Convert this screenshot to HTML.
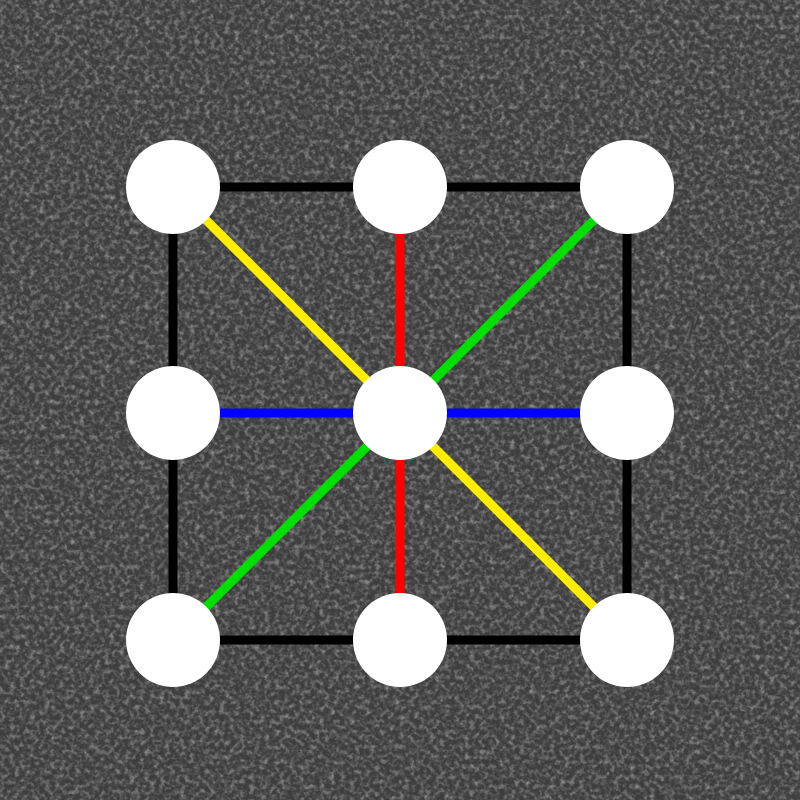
<!DOCTYPE html>
<html>
<head>
<meta charset="utf-8">
<style>
html,body{margin:0;padding:0;width:800px;height:800px;overflow:hidden;background:#3c3c3c;}
svg{display:block;}
</style>
</head>
<body>
<svg width="800" height="800" viewBox="0 0 800 800">
  <defs>
    <filter id="asphalt" x="0" y="0" width="100%" height="100%">
      <feTurbulence type="fractalNoise" baseFrequency="0.2" numOctaves="3" seed="7" result="n"/>
      <feColorMatrix type="matrix" values="0 0 0 0 0.42  0 0 0 0 0.42  0 0 0 0 0.42  2.2 0 0 0 -1.0" in="n"/>
    </filter>
    <filter id="dark" x="0" y="0" width="100%" height="100%">
      <feTurbulence type="fractalNoise" baseFrequency="0.25" numOctaves="2" seed="3" result="n"/>
      <feColorMatrix type="matrix" values="0 0 0 0 0.15  0 0 0 0 0.15  0 0 0 0 0.15  2.2 0 0 0 -1.0" in="n"/>
    </filter>
  </defs>
  <rect x="0" y="0" width="800" height="800" fill="#3d3d3d"/>
  <rect x="0" y="0" width="800" height="800" fill="#000" filter="url(#asphalt)" opacity="0.8"/>
  <rect x="0" y="0" width="800" height="800" fill="#000" filter="url(#dark)" opacity="0.7"/>
  <g id="board"></g>
</svg>
<script>
// grid coordinates (column, row indices 0..2)
const xs = [173, 400, 627];
const ys = [187, 413, 640];
const lines = [
  {a:[0,0], b:[2,2], color:'#ffee00', name:'diagonal-yellow'},
  {a:[2,0], b:[0,2], color:'#00e000', name:'diagonal-green'},
  {a:[1,0], b:[1,2], color:'#ff0000', name:'vertical-red'},
  {a:[0,1], b:[2,1], color:'#0000ff', name:'horizontal-blue'}
];
const ns = 'http://www.w3.org/2000/svg';
const g = document.getElementById('board');
const sq = document.createElementNS(ns, 'rect');
sq.setAttribute('x', xs[0]); sq.setAttribute('y', ys[0]);
sq.setAttribute('width', xs[2]-xs[0]); sq.setAttribute('height', ys[2]-ys[0]);
sq.setAttribute('fill', 'none'); sq.setAttribute('stroke', '#000'); sq.setAttribute('stroke-width', '9');


g.appendChild(sq);
lines.forEach(l => {
  const ln = document.createElementNS(ns, 'line');
  ln.setAttribute('x1', xs[l.a[0]]); ln.setAttribute('y1', ys[l.a[1]]);
  ln.setAttribute('x2', xs[l.b[0]]); ln.setAttribute('y2', ys[l.b[1]]);
  ln.setAttribute('stroke', l.color); ln.setAttribute('stroke-width', '9');
  
  
  g.appendChild(ln);
});
for (let r = 0; r < 3; r++) for (let c = 0; c < 3; c++) {
  const ci = document.createElementNS(ns, 'circle');
  ci.setAttribute('cx', xs[c]); ci.setAttribute('cy', ys[r]); ci.setAttribute('r', 47);
  ci.setAttribute('fill', '#ffffff');
  
  
  g.appendChild(ci);
}
</script>
</body>
</html>
